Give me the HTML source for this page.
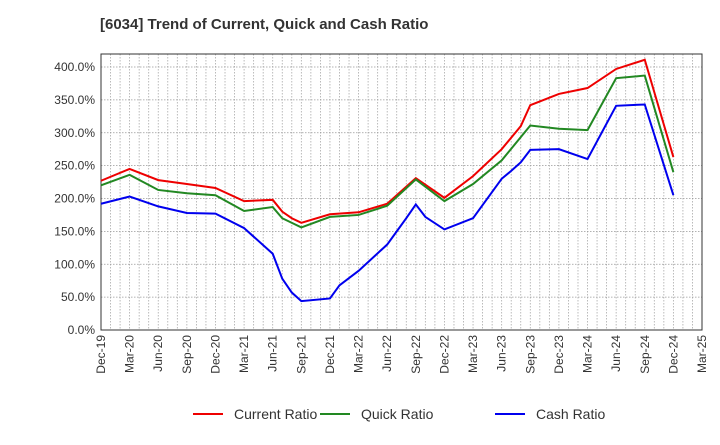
<!DOCTYPE html>
<html><head><meta charset="utf-8"><style>
body{margin:0;background:#fff;font-family:"Liberation Sans",Arial,sans-serif}
svg text{font-family:"Liberation Sans",Arial,sans-serif}
</style></head><body>
<svg id="c" width="720" height="440" xmlns="http://www.w3.org/2000/svg">
<text x="100" y="29" font-size="15" font-weight="bold" fill="#333">[6034]  Trend of Current, Quick and Cash Ratio</text>
<g id="grid"></g><g id="axes"></g><g id="lines"></g><g id="legend"></g>
</svg>
<script>
const tickLabels=["Dec-19","Mar-20","Jun-20","Sep-20","Dec-20","Mar-21","Jun-21","Sep-21","Dec-21","Mar-22","Jun-22","Sep-22","Dec-22","Mar-23","Jun-23","Sep-23","Dec-23","Mar-24","Jun-24","Sep-24","Dec-24","Mar-25"];
const yTicks=[0,50,100,150,200,250,300,350,400];
const currentMonths=[0,3,6,9,12,15,18,19,20,21,24,27,30,33,36,39,42,44,45,48,51,54,57,60];
const currentVals=[227,245,228,222,216,196,198,180,170,163,176,179,192,231,201,234,275,310,342,359,368,397,411,263];
const quickMonths=[0,3,6,9,12,15,18,19,21,24,27,30,33,36,39,42,45,48,51,54,57,60];
const quickVals=[220,236,213,208,205,181,187,170,156,172,175,189,229,196,222,258,311,306,304,383,387,240];
const cashMonths=[0,3,6,9,12,15,18,19,20,21,24,25,27,30,31,32,33,34,36,39,40,41,42,43,44,45,48,51,54,57,60];
const cashVals=[192,203,188,178,177,155,116,78,57,44,48,68,90,130,150,170,191,172,153,170,190,210,230,242,255,274,275,260,341,343,205];
const L=101,R=702,T=54,B=330;
const x=m=>L+(R-L)*m/63;
const y=v=>B-v*(B-67)/400;
const NS="http://www.w3.org/2000/svg";
function mk(tag,attrs,parent){const e=document.createElementNS(NS,tag);for(const k in attrs)e.setAttribute(k,attrs[k]);parent.appendChild(e);return e;}
const grid=document.getElementById('grid'),axes=document.getElementById('axes'),lines=document.getElementById('lines'),legend=document.getElementById('legend');
for(let m=1;m<63;m++){const g=mk('line',{x1:x(m),x2:x(m),y1:T,y2:B,stroke:'#aaa','stroke-width':0.8,'stroke-dasharray':'1.5,1.5'},grid);

}
yTicks.forEach(v=>{const g=mk('line',{x1:L,x2:R,y1:y(v),y2:y(v),stroke:'#999','stroke-width':0.8,'stroke-dasharray':'1.5,1.5'},grid);


const t=mk('text',{x:L-6,y:y(v)+4,'text-anchor':'end','font-size':12,fill:'#333'},axes);t.textContent=v.toFixed(1)+'%';

});
const fr=mk('rect',{x:L,y:T,width:R-L,height:B-T,fill:'none',stroke:'#333','stroke-width':1},axes);


tickLabels.forEach((s,i)=>{const px=x(i*3);const t=mk('text',{x:px+4,y:B+5,'text-anchor':'end','font-size':12,fill:'#333',transform:`rotate(-90 ${px+4} ${B+5})`},axes);t.textContent=s;

});
const series=[["Current Ratio","#ee0000",currentMonths,currentVals,"current-ratio-line"],["Quick Ratio","#228822",quickMonths,quickVals,"quick-ratio-line"],["Cash Ratio","#0000ee",cashMonths,cashVals,"cash-ratio-line"]];
series.forEach(([nm,col,ms,vs,dn])=>{const p=mk('polyline',{points:ms.map((m,i)=>x(m)+','+y(vs[i])).join(' '),fill:'none',stroke:col,'stroke-width':2},lines);

});
const lx=[193,320,495];
series.forEach(([nm,col],i)=>{const g=mk('g',{},legend);


mk('line',{x1:lx[i],x2:lx[i]+30,y1:414,y2:414,stroke:col,'stroke-width':2},g);
const t=mk('text',{x:lx[i]+41,y:419,'font-size':14,fill:'#333'},g);t.textContent=nm;});
</script>
</body></html>
